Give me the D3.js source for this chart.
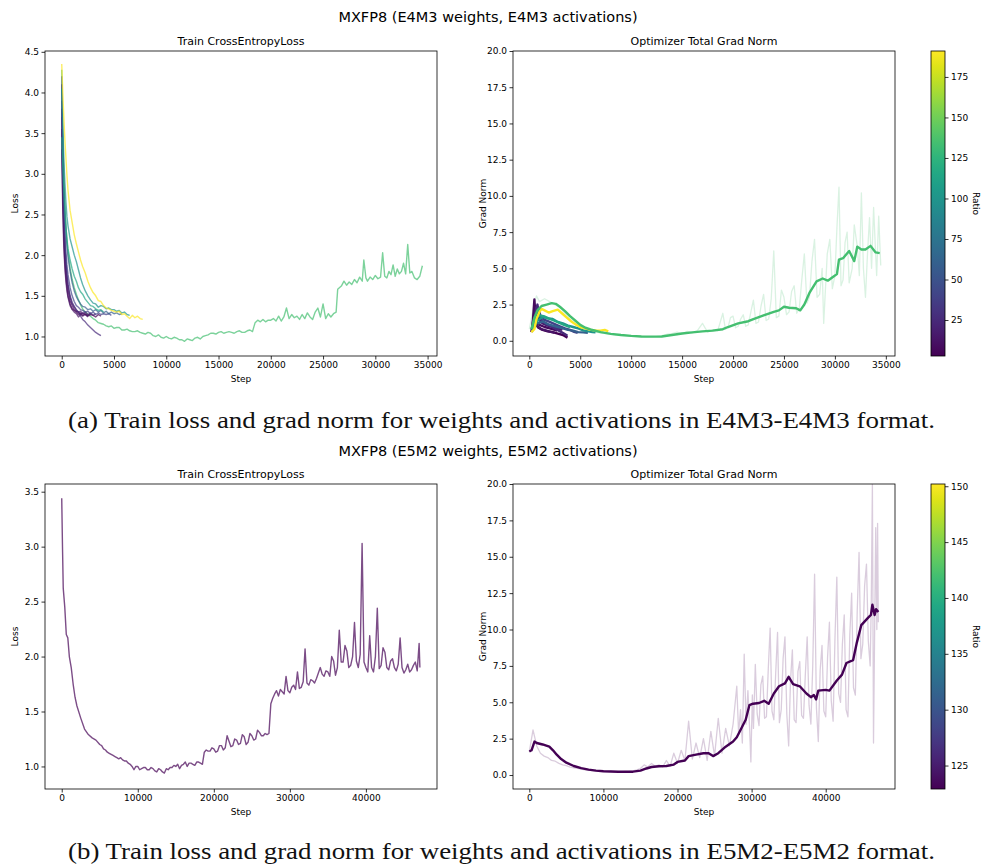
<!DOCTYPE html>
<html>
<head>
<meta charset="utf-8">
<script src="https://cdn.jsdelivr.net/npm/d3@7"></script>
<style>
  body { margin: 0; background: #fff; }
  text { font-family: "DejaVu Sans", sans-serif; fill: #000; }
  text.caption { font-family: "Liberation Serif", serif; fill: #111; }
</style>
</head>
<body>
<svg id="fig" width="997" height="865"></svg>
<script>
// ---------- data: E4M3 runs (top row) ----------
const shortSteps = [0,100,200,300,400,500,600,800,1000,1200,1400,1600,1800,2000,2250,2500,2750,3000,3250,3500,3750,4000,4250,4500,4750,5000,5250,5500,5750,6000,6250,6500,6750,7000,7250,7500,7750]

const e4m3Ratios = [3, 8, 13, 18, 25, 40, 60, 100, 115, 190]
const e4m3ShortLoss = [
  [3.55,2.7,2.2,1.9,1.72,1.6,1.5,1.4,1.34,1.32,1.3,1.27,1.29,1.26,1.28,1.25,1.27,1.26,1.24,1.27,1.25],
  [3.8,2.9,2.35,2.02,1.82,1.68,1.57,1.44,1.38,1.33,1.31,1.3,1.27,1.29,1.27,1.26,1.28],
  [3.3,2.55,2.1,1.85,1.68,1.56,1.48,1.38,1.33,1.3,1.28,1.24,1.27,1.25,1.27,1.24],
  [4.1,3.1,2.5,2.15,1.92,1.76,1.63,1.48,1.4,1.36,1.32,1.3,1.31,1.28,1.3,1.27,1.29,1.26,1.28],
  [3.7,2.95,2.45,2.12,1.9,1.75,1.64,1.5,1.42,1.37,1.33,1.3,1.25,1.21,1.18,1.14,1.11,1.08,1.05,1.03,1.01],
  [3.9,3.15,2.65,2.3,2.05,1.88,1.76,1.6,1.5,1.43,1.38,1.36,1.33,1.32,1.3,1.31,1.28,1.3,1.27,1.29,1.27,1.28,1.27,1.28,1.26],
  [4.2,3.4,2.9,2.55,2.3,2.12,1.98,1.8,1.66,1.56,1.49,1.44,1.4,1.37,1.36,1.33,1.34,1.31,1.33,1.3,1.32,1.29,1.31,1.28,1.3,1.28,1.29,1.27,1.28],
  [4.05,3.6,3.2,2.9,2.66,2.47,2.36,2.2,2.1,2.0,1.92,1.82,1.72,1.64,1.56,1.5,1.45,1.41,1.4,1.36,1.38,1.37,1.34,1.35,1.33,1.33,1.31,1.32,1.29,1.3,1.27,1.26],
  [3.45,3.1,2.8,2.55,2.35,2.2,2.08,1.94,1.83,1.74,1.68,1.6,1.55,1.52,1.46,1.42,1.38,1.37,1.34,1.32,1.33,1.3],
  [4.35,4.0,3.7,3.42,3.2,2.98,2.8,2.55,2.4,2.25,2.14,2.04,1.94,1.86,1.78,1.68,1.6,1.54,1.5,1.44,1.43,1.38,1.35,1.34,1.32,1.31,1.3,1.31,1.27,1.28,1.25,1.22,1.26,1.23,1.25,1.22,1.21]
]
const e4m3ShortGrad = [
  [[200,0.6],[400,1.5],[500,2.0],[600,1.2],[900,0.9],[1300,0.75],[1800,0.65],[2300,0.6],[2800,0.5],[3300,0.4],[3750,0.22]],
  [[300,0.8],[500,2.85],[650,1.3],[1000,1.1],[1500,0.95],[2000,0.85],[2500,0.75],[2750,0.7]],
  [[250,0.6],[600,1.7],[800,1.0],[1200,0.8],[1700,0.7],[2200,0.6],[2500,0.55]],
  [[300,0.9],[700,2.3],[900,1.5],[1300,1.2],[1800,1.05],[2300,0.95],[2800,0.85],[3250,0.75]],
  [[300,0.7],[800,2.5],[1000,1.6],[1400,1.3],[1900,1.1],[2400,0.9],[2900,0.7],[3400,0.5],[3750,0.35]],
  [[300,0.8],[900,2.2],[1100,1.7],[1500,1.45],[2000,1.3],[2500,1.15],[3000,1.0],[3500,0.85],[4000,0.75],[4400,0.62],[4750,0.55]],
  [[300,0.8],[600,1.4],[900,1.2],[1300,1.35],[1800,1.15],[2300,1.05],[2800,0.95],[3300,0.85],[3800,0.75],[4300,0.7],[4800,0.6],[5300,0.58],[5750,0.55]],
  [[300,0.7],[700,1.3],[1000,1.5],[1400,1.65],[1800,1.55],[2300,1.5],[2800,1.3],[3300,1.2],[3800,1.05],[4300,0.95],[4800,0.85],[5300,0.72],[5800,0.65],[6200,0.6],[6500,0.58]],
  [[300,0.8],[700,1.6],[1000,1.75],[1400,1.7],[1900,1.55],[2400,1.4],[2900,1.25],[3400,1.1],[4000,0.95]],
  [[200,0.6],[500,0.8],[700,1.5],[1000,2.0],[1200,2.2],[1500,2.1],[1900,1.95],[2300,2.05],[2800,2.15],[3200,1.9],[3600,1.65],[4100,1.35],[4500,1.15],[5000,0.95],[5500,0.85],[6000,0.75],[6500,0.72],[7000,0.7],[7400,0.75],[7750,0.65]]
]

// the one long E4M3 run
const e4m3LongRatio = 135
const e4m3LongLoss = [[0,4.28],[100,3.5],[200,2.95],[300,2.6],[400,2.36],[500,2.18],[600,2.04],[800,1.84],[1000,1.7],[1200,1.6],[1400,1.52],[1600,1.45],[1800,1.39],[2000,1.34],[2250,1.3],[2500,1.27],[2750,1.25],[3000,1.22],[3250,1.2],[3500,1.17],[3750,1.16],[4000,1.15],[4250,1.13],[4500,1.12],[4750,1.13],[5000,1.1],[5250,1.11],[5500,1.11],[5750,1.08],
  [6000,1.08],[6250,1.09],[6500,1.07],[6750,1.06],[7000,1.06],[7250,1.07],[7500,1.05],[7750,1.04],[8000,1.03],[8250,1.05],[8500,1.04],[8750,1.01],[9000,1.0],[9250,1.02],[9500,0.99],[9750,0.98],[10000,1.0],[10250,0.98],[10500,0.97],[10750,0.99],[11000,0.98],[11250,0.96],[11500,0.96],[11750,0.94],[12000,0.97],[12250,0.96],[12500,0.95],[12750,0.98],[13000,0.99],[13250,0.97],[13500,1.0],[13750,1.01],[14000,1.02],[14250,1.04],[14500,1.04],[14750,1.03],[15000,1.05],[15250,1.06],[15500,1.04],[15750,1.05],[16000,1.06],[16250,1.05],[16500,1.04],[16750,1.06],[17000,1.07],[17250,1.05],[17500,1.05],[17750,1.07],
  [18000,1.08],[18250,1.06],[18500,1.17],[18750,1.2],[19000,1.18],[19250,1.21],[19500,1.18],[19750,1.2],[20000,1.2],[20250,1.22],[20500,1.19],[20750,1.25],[21000,1.19],[21250,1.24],[21500,1.35],[21750,1.22],[22000,1.27],[22250,1.23],[22500,1.25],[22750,1.21],[23000,1.27],[23250,1.22],[23500,1.29],[23750,1.24],[24000,1.21],[24250,1.3],[24500,1.35],[24750,1.24],[25000,1.4],[25250,1.22],[25500,1.28],[25750,1.24],[26000,1.28],[26250,1.3],[26400,1.58],[26750,1.62],[27000,1.68],[27250,1.63],[27500,1.67],[27750,1.64],[28000,1.7],[28250,1.66],[28500,1.73],[28750,1.68],[28900,1.94],[29100,1.72],[29250,1.68],[29500,1.73],[29750,1.7],[30000,1.75],[30250,1.71],[30500,1.73],[30700,2.03],[30900,1.74],[31100,1.72],[31300,1.8],[31500,1.76],[31700,1.88],[31900,1.74],[32100,1.83],[32300,1.77],[32500,1.8],[32700,1.9],[32900,1.77],[33100,2.13],[33300,1.78],[33500,1.8],[33750,1.72],[34000,1.7],[34250,1.74],[34500,1.87]]
const e4m3LongGradRaw = [[0,0.8],[500,2.6],[700,3.1],[1000,2.7],[1500,2.9],[2000,2.7],[2500,2.5],[3000,2.3],[3500,1.9],[4000,1.5],[4500,1.2],[5000,0.95],[5500,0.8],[6000,0.7],[6500,0.6],[7000,0.55],[7500,0.5],[8000,0.45],[8500,0.4],[9000,0.38],[9500,0.35],[10000,0.33],[10500,0.3],[11000,0.3],[11500,0.28],[12000,0.28],[12500,0.3],[13000,0.35],[13500,0.45],[14000,0.5],[14500,0.6],[15000,0.5],[15500,0.65],[16000,0.55],[16500,0.7],[17000,1.2],[17500,0.6],[18000,0.75],[18500,0.7],
  [19000,1.9],[19250,0.8],[19500,0.9],[19750,1.6],[20000,1.7],[20250,0.9],[20500,1.0],[20750,1.5],[21000,1.8],[21250,1.0],[21500,1.1],[21750,2.0],[22000,2.8],[22250,1.2],[22500,1.3],[22750,2.4],[23000,3.2],[23250,1.4],[23500,1.5],[23750,2.9],[24000,6.2],[24250,1.6],[24500,1.7],[24750,3.5],[25000,3.0],[25250,1.8],[25500,2.0],[25750,3.4],[26000,3.8],[26250,1.9],[26500,2.2],[26750,4.2],[27000,6.0],[27250,2.6],[27500,3.0],[27750,5.5],[28000,7.0],[28250,3.0],[28500,3.2],[28750,5.0],[28900,1.2],[29250,6.0],[29500,7.0],[29750,3.6],[30000,4.5],[30200,7.8],[30400,10.6],[30600,3.8],[30800,4.2],[31000,6.8],[31200,7.5],[31400,4.0],[31700,5.0],[31900,8.0],[32200,6.5],[32400,4.5],[32600,10.2],[32800,5.0],[33000,3.0],[33200,6.0],[33400,8.5],[33600,5.0],[33800,9.2],[34000,6.0],[34100,4.5],[34300,8.6],[34500,5.2]]
const e4m3LongGrad = [[200,0.8],[500,1.6],[800,2.1],[1200,2.4],[1700,2.5],[2200,2.6],[2600,2.55],[3000,2.35],[3500,2.05],[4000,1.7],[4500,1.4],[5000,1.1],[5500,0.9],[6000,0.78],[7000,0.6],[8000,0.48],[9000,0.4],[10000,0.34],[11000,0.3],[12000,0.29],[13000,0.3],[14000,0.4],[15000,0.5],[16000,0.58],[17000,0.65],[18000,0.7],[19000,0.8],[19500,0.95],[20500,1.2],[21500,1.35],[22000,1.5],[23000,1.75],[24000,2.0],[24500,2.1],[25000,2.35],[25500,2.28],[26200,2.25],[26600,2.1],[27000,2.5],[27500,3.3],[28200,4.1],[28800,4.3],[29300,4.15],[29800,4.4],[30200,4.6],[30400,5.6],[30800,5.7],[31400,6.2],[31900,5.5],[32200,6.5],[32600,6.3],[33000,6.3],[33500,6.55],[34000,6.1],[34400,6.05]]

// ---------- data: E5M2 run (bottom row) ----------
const e5m2Ratio = 123
const e5m2Loss = [[0,3.44],[100,3.0],[200,2.62],[400,2.45],[600,2.2],[800,2.17],[1000,2.0],[1250,1.9],[1500,1.75],[1750,1.63],[2000,1.55],[2500,1.44],[3000,1.34],[3500,1.29],[4000,1.26],[4500,1.24],
  [5000,1.2],[5250,1.19],[5500,1.16],[5750,1.15],[6000,1.13],[6250,1.12],[6500,1.11],[6750,1.1],[7000,1.09],[7250,1.08],[7500,1.07],[7750,1.08],[8000,1.06],[8250,1.05],[8500,1.05],[8750,1.03],[9000,1.02],[9250,1.0],[9500,0.97],[9750,1.0],[10000,1.0],[10250,0.97],[10500,0.98],[10750,0.99],[11000,0.99],[11250,0.97],[11500,0.97],[11750,0.99],[12000,0.98],[12250,0.96],[12500,0.95],[12750,0.98],[13000,0.97],[13250,0.95],[13500,0.94],[13750,0.98],[14000,0.97],[14250,0.99],[14500,0.99],[14750,1.01],[15000,1.0],[15250,1.02],[15500,0.98],[15750,1.01],[16000,1.02],[16250,1.04],[16500,1.0],[16750,1.03],[17000,1.03],[17250,1.02],[17500,1.01],[17750,1.04],[18000,1.04],[18250,1.03],[18500,1.02],[18750,1.13],[19000,1.15],[19250,1.14],[19500,1.14],[19750,1.17],[20000,1.16],[20250,1.13],[20500,1.14],[20750,1.19],[21000,1.19],[21250,1.15],[21500,1.17],[21750,1.28],[22000,1.23],[22250,1.18],[22500,1.19],[22750,1.25],[23000,1.24],[23250,1.2],[23500,1.21],[23750,1.29],[24000,1.27],[24250,1.2],[24500,1.22],[24750,1.3],[25000,1.28],[25250,1.24],[25500,1.25],[25750,1.33],[26000,1.31],[26250,1.28],[26500,1.28],[26750,1.3],[27000,1.29],[27250,1.3],
  [27500,1.57],[27750,1.62],[28000,1.66],[28250,1.69],[28500,1.64],[28750,1.7],[29000,1.68],[29250,1.66],[29500,1.82],[29750,1.69],[30000,1.67],[30250,1.72],[30500,1.74],[30750,1.7],[31000,1.86],[31250,1.71],[31500,1.72],[31750,1.77],[32000,2.07],[32250,1.76],[32500,1.74],[32750,1.79],[33000,1.78],[33250,1.76],[33500,1.8],[33750,1.85],[34000,1.9],[34250,1.84],[34500,1.82],[34750,1.87],[35000,1.86],[35250,1.82],[35500,2.0],[35750,1.96],[36000,1.83],[36250,1.9],[36500,2.24],[36750,1.95],[37000,1.95],[37250,2.1],[37500,2.05],[37750,1.9],[38000,1.92],[38250,2.0],[38500,2.31],[38750,1.96],[39000,1.9],[39250,2.02],[39500,3.03],[39750,1.95],[40000,1.9],[40250,1.86],[40500,2.19],[40750,1.9],[41000,1.86],[41250,2.0],[41500,2.44],[41750,1.89],[42000,1.92],[42250,2.08],[42500,2.04],[42750,1.9],[43000,1.88],[43250,1.96],[43500,1.98],[43750,1.9],[44000,1.87],[44250,1.93],[44500,2.17],[44750,1.9],[45000,1.85],[45250,1.88],[45500,1.93],[45750,1.86],[46000,1.88],[46250,1.92],[46500,1.95],[46750,1.87],[47000,2.12],[47100,1.9]]
const e5m2GradRaw = [[0,1.6],[500,3.1],[1000,2.0],[1500,1.5],[2000,1.3],[2500,1.2],[3000,1.0],[3500,0.95],[4000,0.8],[4500,0.7],[5000,0.65],[5500,0.55],[6000,0.5],[6500,0.45],[7000,0.4],[7500,0.35],[8000,0.33],[8500,0.3],[9000,0.28],[9500,0.27],[10000,0.26],[10500,0.25],[11000,0.25],[11500,0.24],[12000,0.24],[12500,0.24],[13000,0.25],[13500,0.26],[14000,0.28],[14500,0.35],[15000,0.45],[15500,0.7],[16000,0.55],[16500,0.8],[17000,0.6],[17500,0.7],[18000,0.55],[18500,1.0],[19000,0.6],[19500,1.5],[20000,0.8],[20500,1.7],[21000,1.0],[21500,3.7],[22000,1.1],[22500,2.2],[23000,1.2],[23500,2.5],[24000,1.0],[24500,3.0],[25000,1.3],[25500,3.9],[26000,1.5],[26500,3.2],[27000,2.0],[27500,3.5],
  [28000,6.1],[28250,2.8],[28500,4.5],[28750,2.2],[29000,8.3],[29250,3.5],[29500,5.8],[29750,3.0],[29900,0.9],[30100,5.5],[30250,3.2],[30500,7.6],[30750,4.2],[31000,3.4],[31250,6.2],[31500,6.8],[31750,3.9],[32000,4.0],[32250,7.3],[32500,10.1],[32750,4.4],[33000,3.8],[33250,7.0],[33500,9.8],[33750,3.6],[34000,4.5],[34250,8.0],[34500,9.5],[34750,4.2],[35000,2.0],[35250,6.5],[35500,8.6],[35750,3.8],[36000,3.6],[36250,7.1],[36500,7.8],[36750,4.1],[37000,3.9],[37250,6.9],[37500,9.5],[37750,4.8],[38000,3.5],[38250,7.5],[38500,13.8],[38750,4.6],[39000,2.3],[39250,7.2],[39500,8.9],[39750,4.4],[40000,4.0],[40250,8.1],[40500,10.5],[40750,5.1],[41000,3.7],[41250,9.4],[41500,13.6],[41750,5.6],[42000,5.0],[42250,9.0],[42500,11.0],[42750,4.5],[43000,4.0],[43250,9.6],[43500,12.5],[43750,6.0],[44000,5.5],[44250,11.2],[44500,15.3],[44750,8.0],[45000,9.0],[45250,13.0],[45500,14.5],[45750,9.2],[46000,7.5],[46150,12.0],[46300,20.0],[46450,2.2],[46600,9.8],[46750,17.0],[46900,10.0],[47000,17.3],[47100,10.5]]
const e5m2Grad = [[0,1.62],[300,1.7],[700,2.3],[1000,2.2],[1800,2.1],[2700,1.95],[3200,1.7],[3700,1.4],[4300,1.1],[5000,0.85],[6000,0.62],[7000,0.47],[8000,0.37],[9000,0.3],[10000,0.26],[11000,0.24],[12000,0.23],[13000,0.23],[14000,0.23],[15000,0.3],[15800,0.45],[16500,0.55],[17500,0.6],[18500,0.62],[19500,0.72],[20000,0.9],[21000,1.0],[21500,1.3],[22500,1.4],[23500,1.5],[24200,1.5],[24800,1.3],[25500,1.5],[26500,1.95],[27500,2.3],[28000,2.6],[28500,3.1],[29200,3.8],[29700,4.8],[30200,4.9],[31000,4.95],[31700,5.1],[32300,4.9],[33000,5.6],[33700,6.1],[34500,6.3],[35000,6.75],[35600,6.25],[36500,6.1],[37400,5.6],[38000,5.35],[38400,5.5],[38700,5.2],[39000,5.8],[40000,5.85],[40500,5.8],[41500,6.5],[42200,6.9],[42800,7.7],[43700,7.9],[44200,9.1],[44800,10.3],[45700,10.8],[46100,11.0],[46300,11.7],[46600,11.0],[46800,11.4],[47100,11.2]]

// ---------- tick labels / text ----------
const lossTicksTop = [1.0, 1.5, 2.0, 2.5, 3.0, 3.5, 4.0, 4.5]
const lossTicksBottom = [1.0, 1.5, 2.0, 2.5, 3.0, 3.5]
const gradTicks = [0, 2.5, 5, 7.5, 10, 12.5, 15, 17.5, 20]
const stepTicksTop = [0, 5000, 10000, 15000, 20000, 25000, 30000, 35000]
const stepTicksBottom = [0, 10000, 20000, 30000, 40000]
const ratioTicksTop = [25, 50, 75, 100, 125, 150, 175]
const ratioTicksBottom = [125, 130, 135, 140, 145, 150]
const supTitles = ['MXFP8 (E4M3 weights, E4M3 activations)', 'MXFP8 (E5M2 weights, E5M2 activations)']
const captions = ['(a) Train loss and grad norm for weights and activations in E4M3-E4M3 format.',
  '(b) Train loss and grad norm for weights and activations in E5M2-E5M2 format.']

const svg = d3.select('#fig')
let clipCount = 0

function makeAxes (box, xDom, yDom, xTicks, yTicks, title, yLabel) {
  const x = d3.scaleLinear().domain(xDom).range([box.x0, box.x1])
  const y = d3.scaleLinear().domain(yDom).range([box.y1, box.y0])
  const g = svg.append('g')

  const id = 'clip' + (clipCount++)
  g.append('clipPath').attr('id', id)
    .append('rect')
      .attr('x', box.x0).attr('y', box.y0)
      .attr('width', box.x1 - box.x0).attr('height', box.y1 - box.y0)
  const plot = g.append('g').attr('clip-path', `url(#${id})`)

  const xa = g.append('g')
    .attr('transform', `translate(0,${box.y1})`)
    .call(d3.axisBottom(x).tickValues(xTicks).tickFormat(d3.format('d')).tickSize(3.5).tickPadding(2.5))
  const ya = g.append('g')
    .attr('transform', `translate(${box.x0},0)`)
    .call(d3.axisLeft(y).tickValues(yTicks).tickFormat(d3.format('.1f')).tickSize(3.5).tickPadding(2.5))
  ;[xa, ya].forEach(a => {
    a.select('.domain').remove()
    a.selectAll('line').attr('stroke', '#000').attr('stroke-width', 0.8)
    a.selectAll('text').attr('font-size', 9).attr('font-family', 'DejaVu Sans')
  })

  g.append('text')
    .attr('x', (box.x0 + box.x1) / 2).attr('y', box.y0 - 6)
    .attr('text-anchor', 'middle').attr('font-size', 11)
    .text(title)
  g.append('text')
    .attr('x', (box.x0 + box.x1) / 2).attr('y', box.y1 + 26)
    .attr('text-anchor', 'middle').attr('font-size', 9)
    .text('Step')
  g.append('text')
    .attr('transform', `translate(${box.x0 - 27},${(box.y0 + box.y1) / 2}) rotate(-90)`)
    .attr('text-anchor', 'middle').attr('font-size', 9)
    .text(yLabel)

  g.append('rect')
    .attr('x', box.x0).attr('y', box.y0)
    .attr('width', box.x1 - box.x0).attr('height', box.y1 - box.y0)
    .attr('fill', 'none').attr('stroke', '#000').attr('stroke-width', 0.8)

  return { plot, x, y }
}

function addLine (ax, data, color, width, opacity) {
  const line = d3.line().x(d => ax.x(d[0])).y(d => ax.y(d[1]))
  ax.plot.append('path')
    .datum(data)
    .attr('d', line)
    .attr('fill', 'none')
    .attr('stroke', color)
    .attr('stroke-width', width)
    .attr('stroke-opacity', opacity)
    .attr('stroke-linejoin', 'round')
}

function colorbar (box, dom, ticks) {
  const id = 'grad' + (clipCount++)
  const grad = svg.append('defs').append('linearGradient')
    .attr('id', id).attr('x1', 0).attr('y1', 1).attr('x2', 0).attr('y2', 0)
  d3.range(0, 1.0001, 0.05).forEach(t => {
    grad.append('stop').attr('offset', t).attr('stop-color', d3.interpolateViridis(t))
  })
  svg.append('rect')
    .attr('x', box.x0).attr('y', box.y0)
    .attr('width', box.x1 - box.x0).attr('height', box.y1 - box.y0)
    .attr('fill', `url(#${id})`).attr('stroke', '#000').attr('stroke-width', 0.8)
  const s = d3.scaleLinear().domain(dom).range([box.y1, box.y0])
  const a = svg.append('g')
    .attr('transform', `translate(${box.x1},0)`)
    .call(d3.axisRight(s).tickValues(ticks).tickFormat(d3.format('d')).tickSize(3.5).tickPadding(2.5))
  a.select('.domain').remove()
  a.selectAll('line').attr('stroke', '#000').attr('stroke-width', 0.8)
  a.selectAll('text').attr('font-size', 9).attr('font-family', 'DejaVu Sans')
  svg.append('text')
    .attr('transform', `translate(${box.x1 + 28},${(box.y0 + box.y1) / 2}) rotate(90)`)
    .attr('text-anchor', 'middle').attr('font-size', 9)
    .text('Ratio')
}

function caption (txt, y) {
  svg.append('text').attr('class', 'caption')
    .attr('x', 68).attr('y', y).attr('font-size', 23)
    .attr('textLength', 867).attr('lengthAdjust', 'spacingAndGlyphs')
    .text(txt)
}

// layout
const topY = { y0: 51, y1: 356 }
const botY = { y0: 484, y1: 789 }
const leftX = { x0: 45, x1: 437 }
const rightX = { x0: 513, x1: 895 }
const cbX = { x0: 931, x1: 945 }

// ---------- top row ----------
svg.append('text').attr('x', 488).attr('y', 22).attr('text-anchor', 'middle')
  .attr('font-size', 14.5).text(supTitles[0])

const colTop = d3.scaleSequential(d3.interpolateViridis).domain([2.8, 191])

const tl = makeAxes({ ...leftX, ...topY }, [-1600, 35900], [0.76, 4.51],
  stepTicksTop, lossTicksTop, 'Train CrossEntropyLoss', 'Loss')
addLine(tl, e4m3LongLoss, colTop(e4m3LongRatio), 1.4, 0.7)
e4m3ShortLoss.forEach((vals, i) => {
  addLine(tl, vals.map((v, j) => [shortSteps[j], v]), colTop(e4m3Ratios[i]), 1.4, 0.7)
})

const tr = makeAxes({ ...rightX, ...topY }, [-1600, 35900], [-1.05, 20],
  stepTicksTop, gradTicks, 'Optimizer Total Grad Norm', 'Grad Norm')
addLine(tr, e4m3LongGradRaw, colTop(e4m3LongRatio), 1.3, 0.2)
e4m3ShortGrad.forEach((pts, i) => {
  addLine(tr, pts, colTop(e4m3Ratios[i]), 2.4, 1)
})
addLine(tr, e4m3LongGrad, colTop(e4m3LongRatio), 2.4, 1)

colorbar({ ...cbX, ...topY }, [2.8, 191], ratioTicksTop)
caption(captions[0], 428)

// ---------- bottom row ----------
svg.append('text').attr('x', 488).attr('y', 456).attr('text-anchor', 'middle')
  .attr('font-size', 14.5).text(supTitles[1])

const colBot = d3.scaleSequential(d3.interpolateViridis).domain([122.9, 150.2])

const bl = makeAxes({ ...leftX, ...botY }, [-2200, 49350], [0.795, 3.57],
  stepTicksBottom, lossTicksBottom, 'Train CrossEntropyLoss', 'Loss')
addLine(bl, e5m2Loss, colBot(e5m2Ratio), 1.4, 0.7)

const br = makeAxes({ ...rightX, ...botY }, [-2200, 49350], [-0.96, 20],
  stepTicksBottom, gradTicks, 'Optimizer Total Grad Norm', 'Grad Norm')
addLine(br, e5m2GradRaw, colBot(e5m2Ratio), 1.3, 0.2)
addLine(br, e5m2Grad, colBot(e5m2Ratio), 2.4, 1)

colorbar({ ...cbX, ...botY }, [122.9, 150.2], ratioTicksBottom)
caption(captions[1], 859)
</script>
</body>
</html>
